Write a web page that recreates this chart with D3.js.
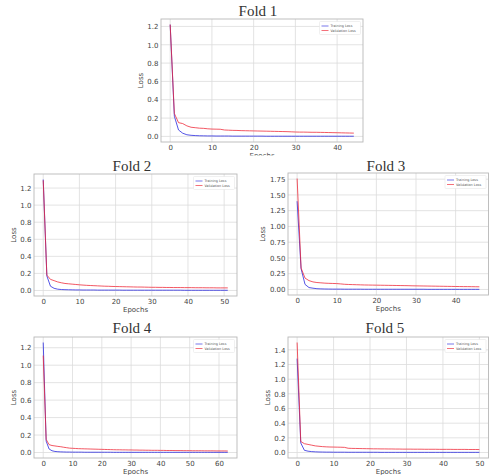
<!DOCTYPE html>
<html lang="en">
<head>
  <meta charset="utf-8">
  <title>Loss per fold</title>
  <script src="https://d3js.org/d3.v7.min.js"></script>
  <style>
    body { margin: 0; background: #fff; }
    .tick text { font-family: "DejaVu Sans", sans-serif; font-size: 7px; fill: #444; }
    .axis-label { font-family: "DejaVu Sans", sans-serif; font-size: 7px; fill: #444; }
    .title { font-family: "Liberation Serif", "Times New Roman", serif; font-size: 15px; fill: #333; }
    .legend text { font-family: "DejaVu Sans", sans-serif; font-size: 3.4px; fill: #555; }
  </style>
</head>
<body>
<div id="chart"></div>
<script>
  // series values, one value per epoch
  var fold1Train = [1.22, 0.22, 0.07, 0.035, 0.018, 0.012, 0.009, 0.007, 0.006, 0.005,
    0.005, 0.004, 0.004, 0.004, 0.004, 0.003, 0.003, 0.003, 0.003, 0.003,
    0.003, 0.003, 0.003, 0.002, 0.002, 0.002, 0.002, 0.002, 0.002, 0.002,
    0.002, 0.002, 0.002, 0.002, 0.002, 0.002, 0.002, 0.002, 0.002, 0.002,
    0.002, 0.002, 0.002, 0.002, 0.002];
  var fold1Val = [1.22, 0.25, 0.15, 0.14, 0.115, 0.10, 0.095, 0.09, 0.088, 0.083,
    0.08, 0.079, 0.078, 0.07, 0.068, 0.066, 0.065, 0.063, 0.062, 0.061,
    0.06, 0.059, 0.058, 0.057, 0.056, 0.055, 0.054, 0.053, 0.052, 0.05,
    0.048, 0.047, 0.047, 0.046, 0.045, 0.045, 0.044, 0.043, 0.042, 0.041,
    0.04, 0.039, 0.038, 0.037, 0.036];

  var fold2Train = [1.30, 0.17, 0.05, 0.025, 0.015, 0.011, 0.009, 0.008, 0.007, 0.006,
    0.006, 0.005, 0.005, 0.005, 0.005, 0.004, 0.004, 0.004, 0.004, 0.004,
    0.004, 0.004, 0.003, 0.003, 0.003, 0.003, 0.003, 0.003, 0.003, 0.003,
    0.003, 0.003, 0.003, 0.003, 0.003, 0.003, 0.003, 0.003, 0.003, 0.002,
    0.002, 0.002, 0.002, 0.002, 0.002, 0.002, 0.002, 0.002, 0.002, 0.002,
    0.002, 0.002];
  var fold2Val = [1.29, 0.18, 0.13, 0.115, 0.10, 0.09, 0.082, 0.078, 0.074, 0.07,
    0.066, 0.063, 0.06, 0.058, 0.056, 0.054, 0.052, 0.05, 0.049, 0.047,
    0.046, 0.045, 0.044, 0.043, 0.042, 0.041, 0.04, 0.04, 0.039, 0.038,
    0.037, 0.037, 0.036, 0.036, 0.035, 0.035, 0.034, 0.034, 0.034, 0.033,
    0.033, 0.033, 0.032, 0.032, 0.032, 0.031, 0.031, 0.031, 0.03, 0.03,
    0.03, 0.03];

  var fold3Train = [1.40, 0.33, 0.08, 0.03, 0.02, 0.012, 0.009, 0.007, 0.006, 0.005,
    0.005, 0.005, 0.004, 0.004, 0.004, 0.004, 0.004, 0.003, 0.003, 0.003,
    0.003, 0.003, 0.003, 0.003, 0.003, 0.003, 0.003, 0.003, 0.003, 0.003,
    0.003, 0.003, 0.003, 0.002, 0.002, 0.002, 0.002, 0.002, 0.002, 0.002,
    0.002, 0.002, 0.002, 0.002, 0.002, 0.002, 0.002];
  var fold3Val = [1.76, 0.34, 0.18, 0.14, 0.12, 0.11, 0.105, 0.10, 0.097, 0.095,
    0.093, 0.088, 0.082, 0.079, 0.077, 0.075, 0.073, 0.071, 0.07, 0.069,
    0.068, 0.067, 0.066, 0.065, 0.064, 0.063, 0.062, 0.061, 0.06, 0.058,
    0.057, 0.056, 0.055, 0.054, 0.053, 0.052, 0.051, 0.05, 0.049, 0.048,
    0.047, 0.046, 0.045, 0.045, 0.044, 0.043, 0.042];

  var fold4Train = [1.26, 0.13, 0.04, 0.02, 0.012, 0.009, 0.007, 0.006, 0.005, 0.005,
    0.004, 0.004, 0.004, 0.004, 0.003, 0.003, 0.003, 0.003, 0.003, 0.003,
    0.003, 0.003, 0.003, 0.003, 0.002, 0.002, 0.002, 0.002, 0.002, 0.002,
    0.002, 0.002, 0.002, 0.002, 0.002, 0.002, 0.002, 0.002, 0.002, 0.002,
    0.002, 0.002, 0.002, 0.002, 0.002, 0.002, 0.002, 0.002, 0.002, 0.002,
    0.002, 0.002, 0.002, 0.002, 0.002, 0.002, 0.002, 0.002, 0.002, 0.002,
    0.002, 0.002, 0.002, 0.002];
  var fold4Val = [1.11, 0.15, 0.09, 0.08, 0.075, 0.07, 0.066, 0.06, 0.055, 0.05,
    0.048, 0.046, 0.044, 0.043, 0.042, 0.041, 0.04, 0.039, 0.038, 0.037,
    0.036, 0.035, 0.034, 0.033, 0.032, 0.031, 0.031, 0.03, 0.03, 0.029,
    0.029, 0.028, 0.028, 0.027, 0.027, 0.026, 0.026, 0.025, 0.025, 0.025,
    0.024, 0.024, 0.023, 0.023, 0.023, 0.022, 0.022, 0.022, 0.021, 0.021,
    0.021, 0.02, 0.02, 0.02, 0.02, 0.019, 0.019, 0.019, 0.019, 0.018,
    0.018, 0.018, 0.018, 0.017];

  var fold5Train = [1.28, 0.13, 0.03, 0.018, 0.012, 0.009, 0.007, 0.006, 0.005, 0.005,
    0.004, 0.004, 0.004, 0.004, 0.003, 0.003, 0.003, 0.003, 0.003, 0.003,
    0.003, 0.003, 0.003, 0.002, 0.002, 0.002, 0.002, 0.002, 0.002, 0.002,
    0.002, 0.002, 0.002, 0.002, 0.002, 0.002, 0.002, 0.002, 0.002, 0.002,
    0.002, 0.002, 0.002, 0.002, 0.002, 0.002, 0.002, 0.002, 0.002, 0.002,
    0.002];
  var fold5Val = [1.50, 0.15, 0.12, 0.11, 0.10, 0.09, 0.085, 0.08, 0.077, 0.075,
    0.074, 0.073, 0.072, 0.07, 0.058, 0.056, 0.055, 0.054, 0.053, 0.052,
    0.051, 0.05, 0.05, 0.049, 0.049, 0.048, 0.048, 0.047, 0.047, 0.046,
    0.046, 0.046, 0.045, 0.045, 0.045, 0.044, 0.044, 0.044, 0.044, 0.043,
    0.043, 0.043, 0.043, 0.042, 0.042, 0.042, 0.042, 0.041, 0.041, 0.041,
    0.04];

  // tick labels
  var yTicks12 = [0, 0.2, 0.4, 0.6, 0.8, 1.0, 1.2];
  var yTicks14 = [0, 0.2, 0.4, 0.6, 0.8, 1.0, 1.2, 1.4];
  var yTicks175 = [0, 0.25, 0.5, 0.75, 1.0, 1.25, 1.5, 1.75];
  var xTicks40 = [0, 10, 20, 30, 40];
  var xTicks50 = [0, 10, 20, 30, 40, 50];
  var xTicks60 = [0, 10, 20, 30, 40, 50, 60];

  var foldTitles = ["Fold 1", "Fold 2", "Fold 3", "Fold 4", "Fold 5"];
  var legendLabels = ["Training Loss", "Validation Loss"];

  var folds = [
    { title: foldTitles[0], train: fold1Train, val: fold1Val, xTicks: xTicks40, yTicks: yTicks12, fmt: ".1f" },
    { title: foldTitles[1], train: fold2Train, val: fold2Val, xTicks: xTicks50, yTicks: yTicks12, fmt: ".1f" },
    { title: foldTitles[2], train: fold3Train, val: fold3Val, xTicks: xTicks40, yTicks: yTicks175, fmt: ".2f" },
    { title: foldTitles[3], train: fold4Train, val: fold4Val, xTicks: xTicks60, yTicks: yTicks12, fmt: ".1f" },
    { title: foldTitles[4], train: fold5Train, val: fold5Val, xTicks: xTicks50, yTicks: yTicks14, fmt: ".1f" }
  ];

  // where each plot frame sits in the composite picture
  var frames = [
    { left: 161, right: 363, top: 19, bottom: 142, titleX: 258, titleY: 15.5, clipBottom: 155.5 },
    { left: 34, right: 237, top: 174, bottom: 296, titleX: 132, titleY: 171, clipBottom: 320 },
    { left: 288, right: 488.5, top: 173, bottom: 295, titleX: 386, titleY: 170.5, clipBottom: 320 },
    { left: 34, right: 237, top: 337, bottom: 458, titleX: 132, titleY: 332.5, clipBottom: 475 },
    { left: 288, right: 488.5, top: 337, bottom: 458, titleX: 385, titleY: 333, clipBottom: 475 }
  ];

  var trainColor = "#2a2ae0";
  var valColor = "#ee2030";

  var svg = d3.select("#chart")
    .append("svg")
    .attr("width", 489)
    .attr("height", 475);

  function drawFold(fold, frame, i)
  {
    var clipId = "clip" + i;
    svg.append("clipPath")
      .attr("id", clipId)
      .append("rect")
      .attr("x", 0)
      .attr("y", 0)
      .attr("width", 489)
      .attr("height", frame.clipBottom);

    var g = svg.append("g").attr("clip-path", "url(#" + clipId + ")");

    // matplotlib style 5% margins around the data
    var n = fold.train.length - 1;
    var yMax = d3.max(fold.train.concat(fold.val));
    var x = d3.scaleLinear()
      .domain([-0.05 * n, 1.05 * n])
      .range([frame.left, frame.right]);
    var y = d3.scaleLinear()
      .domain([-0.05 * yMax, 1.05 * yMax])
      .range([frame.bottom, frame.top]);

    // grid
    g.append("g")
      .selectAll("line")
      .data(fold.xTicks)
      .enter()
      .append("line")
      .attr("x1", function(d) { return x(d); })
      .attr("x2", function(d) { return x(d); })
      .attr("y1", frame.top)
      .attr("y2", frame.bottom)
      .attr("stroke", "#dcdcdc")
      .attr("stroke-width", 0.8);
    g.append("g")
      .selectAll("line")
      .data(fold.yTicks)
      .enter()
      .append("line")
      .attr("x1", frame.left)
      .attr("x2", frame.right)
      .attr("y1", function(d) { return y(d); })
      .attr("y2", function(d) { return y(d); })
      .attr("stroke", "#dcdcdc")
      .attr("stroke-width", 0.8);

    // axes
    var xAxis = g.append("g")
      .attr("transform", "translate(0," + frame.bottom + ")")
      .call(d3.axisBottom(x).tickValues(fold.xTicks).tickSize(0).tickPadding(3));
    xAxis.select(".domain").remove();

    var yAxis = g.append("g")
      .attr("transform", "translate(" + frame.left + ",0)")
      .call(d3.axisLeft(y).tickValues(fold.yTicks).tickSize(0).tickPadding(2.5).tickFormat(d3.format(fold.fmt)));
    yAxis.select(".domain").remove();
    var yw = yAxis.node().getBBox().width;

    g.append("text")
      .attr("class", "axis-label")
      .attr("text-anchor", "middle")
      .attr("x", (frame.left + frame.right) / 2)
      .attr("y", frame.bottom + 15.5)
      .text("Epochs");

    g.append("text")
      .attr("class", "axis-label")
      .attr("text-anchor", "middle")
      .attr("transform", "translate(" + (frame.left - yw - 4.5) + "," + ((frame.top + frame.bottom) / 2) + ") rotate(-90)")
      .text("Loss");

    // lines
    var line = d3.line()
      .x(function(d, k) { return x(k); })
      .y(function(d) { return y(d); });

    g.append("path")
      .datum(fold.train)
      .attr("fill", "none")
      .attr("stroke", trainColor)
      .attr("stroke-opacity", 0.8)
      .attr("stroke-width", 1)
      .attr("d", line);
    g.append("path")
      .datum(fold.val)
      .attr("fill", "none")
      .attr("stroke", valColor)
      .attr("stroke-opacity", 0.75)
      .attr("stroke-width", 1)
      .attr("d", line);

    // frame
    g.append("rect")
      .attr("x", frame.left)
      .attr("y", frame.top)
      .attr("width", frame.right - frame.left)
      .attr("height", frame.bottom - frame.top)
      .attr("fill", "none")
      .attr("stroke", "#b8b8b8")
      .attr("stroke-width", 0.9);

    // legend
    var lw = 41, lh = 13;
    var lg = g.append("g")
      .attr("class", "legend")
      .attr("transform", "translate(" + (frame.right - lw - 2.5) + "," + (frame.top + 2.5) + ")");
    lg.append("rect")
      .attr("width", lw)
      .attr("height", lh)
      .attr("rx", 1)
      .attr("fill", "#fff")
      .attr("stroke", "#e0e0e0")
      .attr("stroke-width", 0.5);
    [trainColor, valColor].forEach(function(c, k)
    {
      var ly = 4.5 + k * 4.5;
      lg.append("line")
        .attr("x1", 2)
        .attr("x2", 9)
        .attr("y1", ly)
        .attr("y2", ly)
        .attr("stroke", c)
        .attr("stroke-opacity", 0.8)
        .attr("stroke-width", 0.8);
      lg.append("text")
        .attr("x", 11)
        .attr("y", ly + 1.2)
        .text(legendLabels[k]);
    });

    // title
    g.append("text")
      .attr("class", "title")
      .attr("text-anchor", "middle")
      .attr("x", frame.titleX)
      .attr("y", frame.titleY)
      .text(fold.title);
  }

  folds.forEach(function(f, i) { drawFold(f, frames[i], i); });
</script>
</body>
</html>
